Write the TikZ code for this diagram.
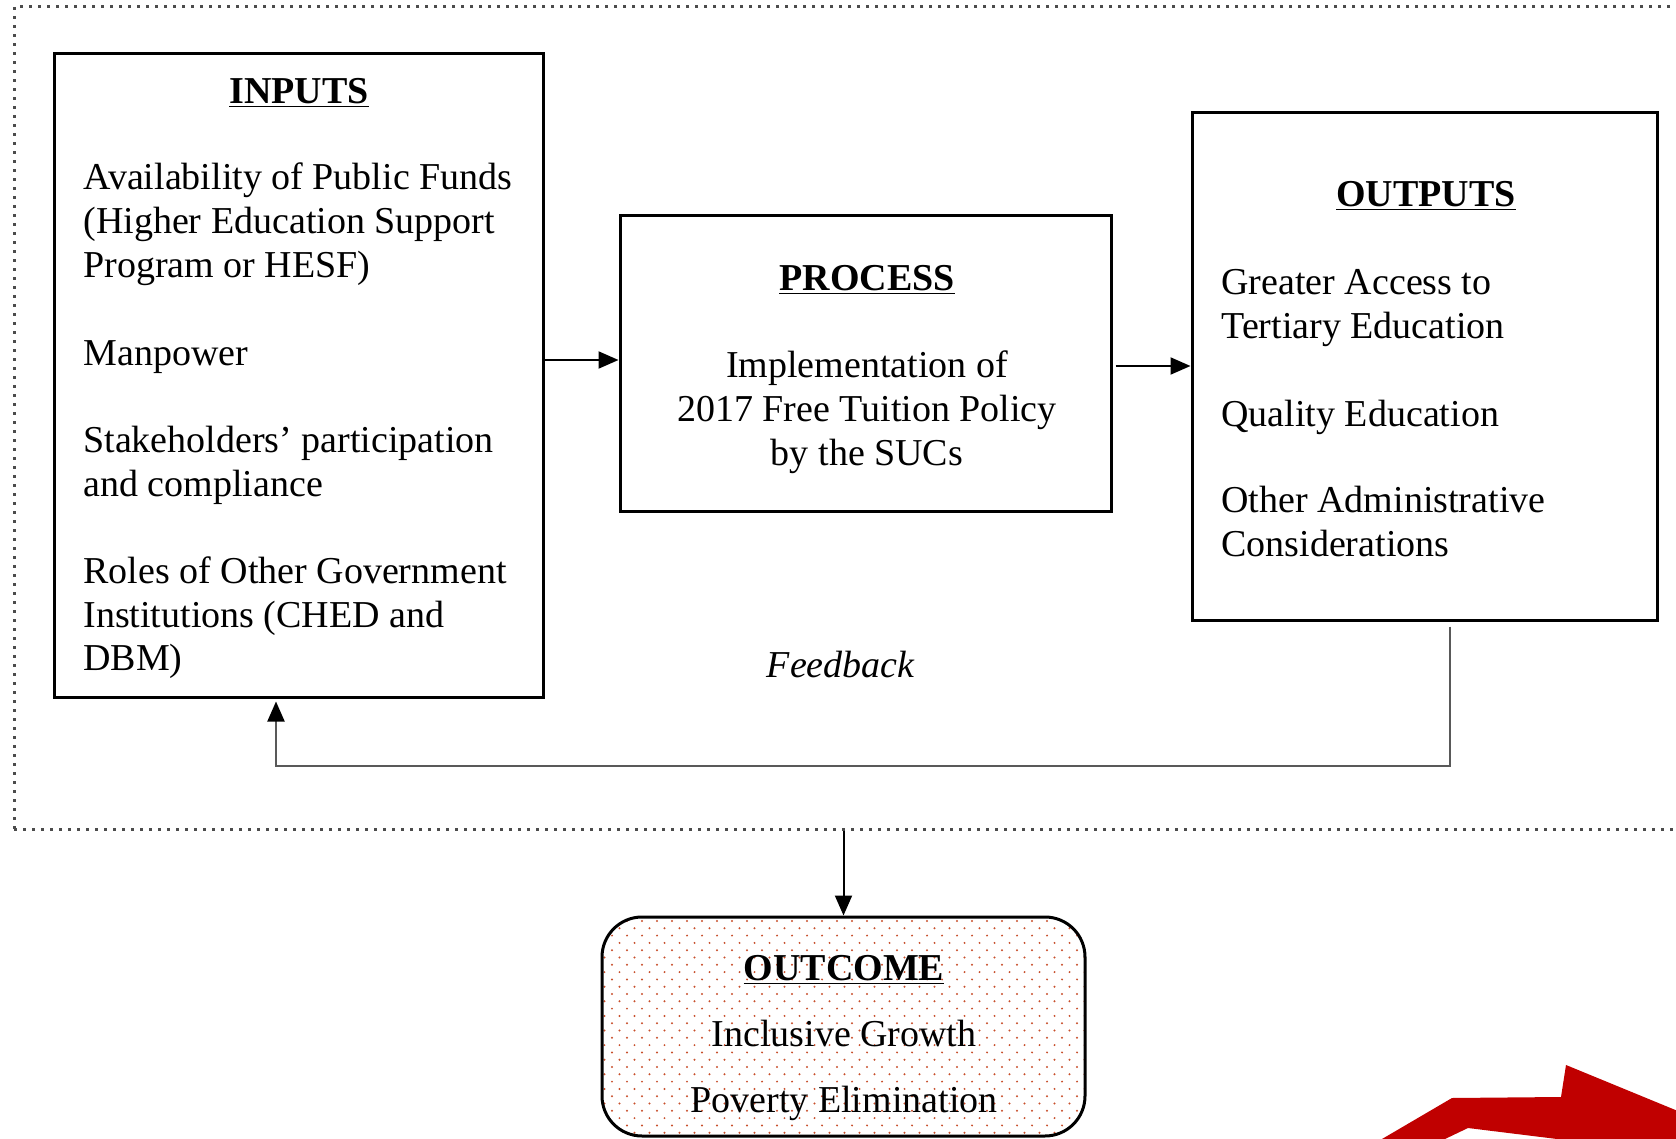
\documentclass[tikz,border=0pt]{standalone}
\usepackage{fontspec}
\setmainfont{Liberation Serif}
\usetikzlibrary{arrows.meta}
\definecolor{dotc}{HTML}{C8502D}
\definecolor{redarrow}{HTML}{C00000}
\begin{document}
\begin{tikzpicture}[x=0.5pt,y=-0.5pt,
  box/.style={draw,line width=1.5pt,inner sep=0pt},
  txt/.style={font=\fontsize{19}{22}\selectfont,inner sep=0pt,anchor=mid west,yshift=-4.3pt},
  ctxt/.style={font=\fontsize{19}{22}\selectfont,inner sep=0pt,anchor=mid,yshift=-4.3pt},
  arr/.style={line width=1pt,-{Triangle[length=10pt,width=8.5pt]}},
  fb/.style={line width=1pt,draw=gray!70!black,-{Triangle[length=10pt,width=8.5pt,fill=black,color=black]}},
  frame/.style={draw=gray!60!black,line width=1.5pt,dash pattern=on 1.5pt off 3pt,inner sep=0pt}
]
\useasboundingbox (0,0) rectangle (1676,1139);
\clip (0,0) rectangle (1676,1139);

% outer dotted frame
\node[frame,minimum width=843pt,minimum height=411pt] (frame) at (857,418) {};

% boxes
\node[box,minimum width=244.25pt,minimum height=321.75pt] (in) at (298.75,375.25) {};
\node[box,minimum width=245.5pt,minimum height=147.5pt] (proc) at (865.5,363.5) {};
\node[box,minimum width=232.5pt,minimum height=253.5pt] (out) at (1424.5,366.5) {};

% outcome dots
\begin{scope}
  \clip[rounded corners=20pt] (602,917) rectangle (1085,1136);
  \foreach \r in {0,...,30}{
    \foreach \c in {0,...,33}{
      \fill[dotc] ({597+\c*15+mod(\r,2)*7.5},{921+\r*7.3}) circle (0.55pt);
    }
  }
\end{scope}
\node[box,rounded corners=20pt,minimum width=241.5pt,minimum height=109.5pt] (oc) at (843.5,1026.5) {};

% inputs text
\node[ctxt] (tin) at (299,90) {\underline{\textbf{INPUTS}}};
\node[txt] (i1) at (83,176) {Availability of Public Funds};
\node[txt] (i2) at (83,220) {(Higher Education Support};
\node[txt] (i3) at (83,264) {Program or HESF)};
\node[txt] (i4) at (83,352) {Manpower};
\node[txt] (i5) at (83,439) {Stakeholders’ participation};
\node[txt] (i6) at (83,483) {and compliance};
\node[txt] (i7) at (83,570) {Roles of Other Government};
\node[txt] (i8) at (83,614) {Institutions (CHED and};
\node[txt] (i9) at (83,657) {DBM)};

% process text
\node[ctxt] (tproc) at (867,277) {\underline{\textbf{PROCESS}}};
\node[ctxt] (p1) at (867,364) {Implementation of};
\node[ctxt] (p2) at (867,408) {2017 Free Tuition Policy};
\node[ctxt] (p3) at (867,452) {by the SUCs};

% outputs text
\node[ctxt] (tout) at (1426,193) {\underline{\textbf{OUTPUTS}}};
\node[txt] (o1) at (1221,281) {Greater Access to};
\node[txt] (o2) at (1221,325) {Tertiary Education};
\node[txt] (o3) at (1221,413) {Quality Education};
\node[txt] (o4) at (1221,499) {Other Administrative};
\node[txt] (o5) at (1221,543) {Considerations};

% outcome text
\node[ctxt] (toc) at (844,967) {\underline{\textbf{OUTCOME}}};
\node[ctxt] (c1) at (844,1033) {Inclusive Growth};
\node[ctxt] (c2) at (844,1099) {Poverty Elimination};

% feedback label
\node[ctxt] (fbl) at (841,664) {\textit{Feedback}};

% connectors
\coordinate (a1) at (0,360);
\coordinate (a2) at (0,366);
\coordinate (fbx) at (1450,0);
\coordinate (fbin) at (276,0);
\coordinate (fby) at (0,766);
\draw[arr] (in.east |- a1) -- (proc.west |- a1);
\draw[arr,shorten <=1.5pt] (proc.east |- a2) -- (out.west |- a2);
\draw[fb,shorten <=2.5pt,shorten >=1.5pt] (out.south -| fbx) -- (fbx |- fby) -- (fbin |- fby) -- (in.south -| fbin);
\draw[arr] (frame.south -| oc.north) -- (oc.north);

% red arrow (partial, cut by the edge)
\fill[redarrow] (1382,1139) -- (1452,1098) -- (1561,1097) -- (1566,1065) -- (1690,1116) -- (1690,1145) -- (1557,1145) -- (1557,1139) -- (1468,1128) -- (1445,1139) -- cycle;
\end{tikzpicture}
\end{document}
